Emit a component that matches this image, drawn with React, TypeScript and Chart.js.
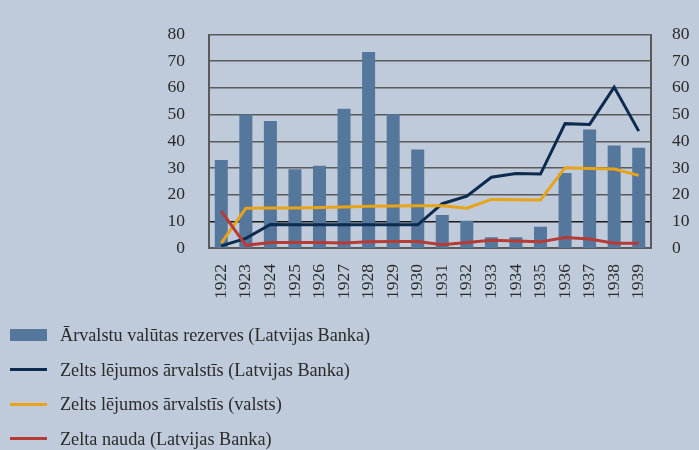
import React, { useEffect, useRef } from "react";
import { Chart, registerables } from "chart.js";

Chart.register(...registerables);

const years = ["1922","1923","1924","1925","1926","1927","1928","1929","1930","1931","1932","1933","1934","1935","1936","1937","1938","1939"];
const reserves = [33, 50, 47.6, 29.5, 30.8, 52.2, 73.4, 50.1, 36.9, 12.4, 10.2, 4.0, 4.0, 8.0, 28.1, 44.4, 38.4, 37.6];
const goldBank = [0.8, 3.6, 8.8, 8.7, 8.7, 8.7, 8.7, 8.7, 8.7, 16.6, 19.4, 26.5, 27.9, 27.7, 46.6, 46.3, 60.3, 43.8];
const goldState = [1.8, 14.9, 15.0, 15.0, 15.2, 15.4, 15.6, 15.7, 15.8, 15.8, 14.9, 18.2, 18.1, 18.0, 30.1, 29.8, 29.6, 27.2];
const goldMoney = [13.8, 1.0, 2.1, 2.1, 2.1, 1.9, 2.3, 2.4, 2.4, 1.2, 2.1, 2.9, 2.6, 2.3, 3.9, 3.4, 1.8, 1.8];
const axisTicks = [0, 10, 20, 30, 40, 50, 60, 70, 80];

const labels = [
  "Ārvalstu valūtas rezerves (Latvijas Banka)",
  "Zelts lējumos ārvalstīs (Latvijas Banka)",
  "Zelts lējumos ārvalstīs (valsts)",
  "Zelta nauda (Latvijas Banka)",
];

const BG = "#bfcbdb";
const BAR = "#55779b";
const DARK = "#0d2a4f";
const ORANGE = "#e8a317";
const RED = "#b73a35";
const FONT = "'Liberation Serif', 'Times New Roman', serif";

export default function App() {
  const ref = useRef<HTMLCanvasElement | null>(null);

  useEffect(() => {
    if (!ref.current) return;
    const tickFont = { family: FONT, size: 17.5 };
    const chart = new Chart(ref.current, {
      type: "bar",
      data: {
        labels: years,
        datasets: [
          { type: "line", label: labels[3], data: goldMoney, borderColor: RED, backgroundColor: RED, borderWidth: 3, pointRadius: 0, tension: 0, order: 1 } as any,
          { type: "line", label: labels[2], data: goldState, borderColor: ORANGE, backgroundColor: ORANGE, borderWidth: 3, pointRadius: 0, tension: 0, order: 1 } as any,
          { type: "line", label: labels[1], data: goldBank, borderColor: DARK, backgroundColor: DARK, borderWidth: 3, pointRadius: 0, tension: 0, order: 1 } as any,
          { type: "bar", label: labels[0], data: reserves, backgroundColor: BAR, barPercentage: 0.53, categoryPercentage: 1, order: 2 } as any,
        ],
      },
      options: {
        responsive: false,
        animation: false,
        layout: { padding: { top: 24, right: 0, left: 0, bottom: 0 } },
        plugins: { legend: { display: false }, tooltip: { enabled: false } },
        scales: {
          x: {
            grid: { display: false, drawTicks: false },
            border: { display: true, color: "#5a5a5a", width: 2 },
            ticks: { minRotation: 90, maxRotation: 90, autoSkip: false, font: tickFont, color: "#2a2a2a", padding: 16 },
            afterFit: (s: any) => { s.height = 202; },
          },
          y: {
            position: "left",
            min: 0,
            max: 80,
            afterBuildTicks: (s: any) => { s.ticks = axisTicks.map((v) => ({ value: v })); },
            ticks: { font: tickFont, color: "#2a2a2a", padding: 24 },
            grid: {
              drawTicks: false,
              color: (c: any) => (c.tick && c.tick.value === 10 ? "#1a1a1a" : "#5a5a5a"),
              lineWidth: (c: any) => (c.tick && c.tick.value === 0 ? 0 : 1.5),
            },
            border: { display: true, color: "#5a5a5a", width: 2 },
            afterFit: (s: any) => { s.width = 209; },
          },
          y2: {
            position: "right",
            min: 0,
            max: 80,
            afterBuildTicks: (s: any) => { s.ticks = axisTicks.map((v) => ({ value: v })); },
            ticks: { font: tickFont, color: "#2a2a2a", padding: 21 },
            grid: { display: false, drawTicks: false },
            border: { display: true, color: "#5a5a5a", width: 2 },
            afterFit: (s: any) => { s.width = 48; },
          },
        },
      },
    });
    return () => chart.destroy();
  }, []);

  const legendRows = [
    { label: labels[0], color: BAR, bar: true },
    { label: labels[1], color: DARK, bar: false },
    { label: labels[2], color: ORANGE, bar: false },
    { label: labels[3], color: RED, bar: false },
  ];

  return (
    <div style={{ position: "fixed", left: 0, top: 0, width: 699, height: 450, background: BG, overflow: "hidden" }}>
      <canvas ref={ref} width={699} height={450} style={{ position: "absolute", left: 0, top: 0, width: 699, height: 450 }} />
      {legendRows.map((r, i) => (
        <div key={i} style={{ position: "absolute", left: 0, top: 335 + i * 34.5 - 12, height: 24, width: 699 }}>
          <div style={{ position: "absolute", left: 10, width: 37, top: r.bar ? 6 : 10.5, height: r.bar ? 12 : 3, background: r.color }} />
          <div style={{ position: "absolute", left: 60, top: 0, lineHeight: "24px", fontFamily: FONT, fontSize: 18.2, color: "#2a2a2a", whiteSpace: "nowrap" }}>{r.label}</div>
        </div>
      ))}
    </div>
  );
}
